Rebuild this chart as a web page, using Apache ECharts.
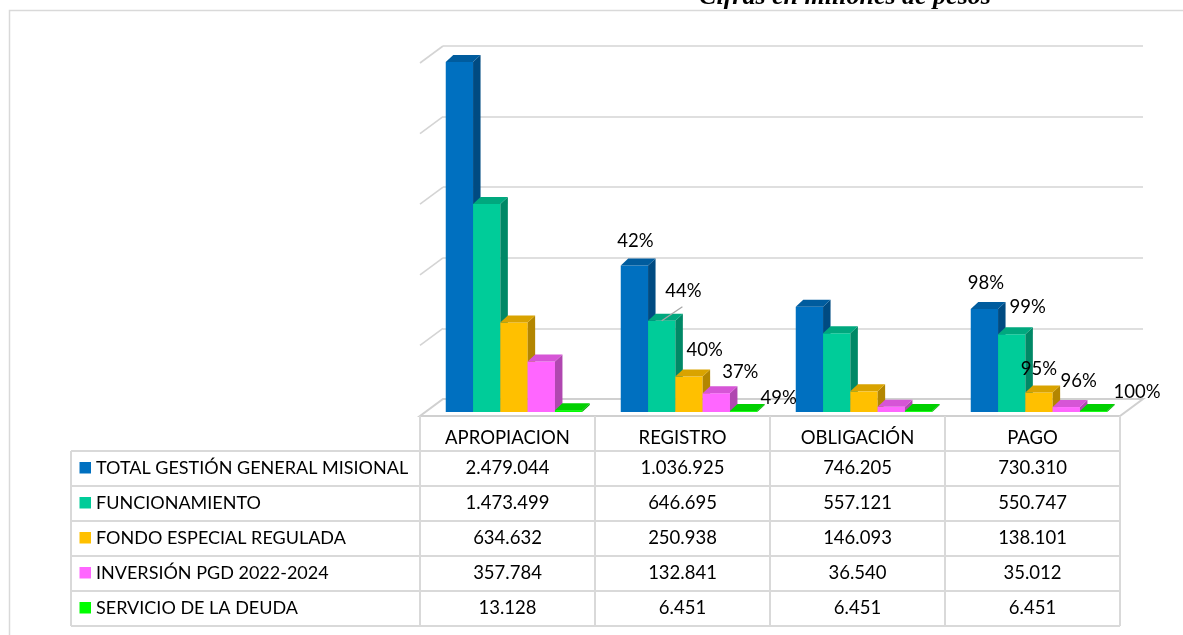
<!DOCTYPE html>
<html><head><meta charset="utf-8">
<script src="https://cdn.jsdelivr.net/npm/echarts@6/dist/echarts.min.js"></script>
<style>html,body{margin:0;padding:0;background:#fff}#c{width:1183px;height:635px}</style>
</head><body><div id="c"></div>
<script>
// ---------- data ----------
const categories = ['APROPIACION', 'REGISTRO', 'OBLIGACIÓN', 'PAGO'];
const seriesNames = ['TOTAL GESTIÓN GENERAL MISIONAL', 'FUNCIONAMIENTO', 'FONDO ESPECIAL REGULADA', 'INVERSIÓN PGD 2022-2024', 'SERVICIO DE LA DEUDA'];
const totalGestion   = [2479044, 1036925, 746205, 730310];
const funcionamiento = [1473499, 646695, 557121, 550747];
const fondoEspecial  = [634632, 250938, 146093, 138101];
const inversionPGD   = [357784, 132841, 36540, 35012];
const servicioDeuda  = [13128, 6451, 6451, 6451];
const pctTotal  = [null, '42%', null, '98%'];
const pctFunc   = [null, '44%', null, '99%'];
const pctFondo  = [null, '40%', null, '95%'];
const pctInv    = [null, '37%', null, '96%'];
const pctDeuda  = [null, '49%', null, '100%'];
const yMin = 0, yMax = 2500000, yInterval = 500000;
const titleText = 'Cifras en millones de pesos';

const seriesValues = [totalGestion, funcionamiento, fondoEspecial, inversionPGD, servicioDeuda];
const seriesPct = [pctTotal, pctFunc, pctFondo, pctInv, pctDeuda];

// ---------- styles / layout ----------
const colors = [
  {front:'#0070C0', top:'#005C9E', side:'#004B82'},
  {front:'#00CC99', top:'#00A87E', side:'#008866'},
  {front:'#FFC000', top:'#D9A300', side:'#B38600'},
  {front:'#FF66FF', top:'#D655D6', side:'#B047B0'},
  {front:'#00FF00', top:'#00D000', side:'#00AA00'}
];
// label offsets relative to the bar's front-top centre [dx, dy, leader]
const labelOffsets = [
  [null, [1, -25], null, [1.5, -26]],
  [null, [21.7, -29.5, true], null, [16, -27]],
  [null, [15.7, -26.7], null, [0, -23]],
  [null, [24, -21.7], null, [12.4, -25.7]],
  [null, [35, -13], null, [43.5, -19.5]]
];
const GRID = {left:443, top:46, right:40, bottom:236};
const FLOOR_DX = -23, FLOOR_DY = 17;      // back wall -> front of floor
const BAR_SX = -16.5, BAR_SY = 13;        // back wall -> front face of bars
const BAR_DX = 7.5, BAR_DY = -7;          // bar depth
const BAR_FRAC = 0.78;
const FONT = '18.5px Lato';
const LEGEND_FONT = '18px Lato';
const LINE = '#d9d9d9';

function fmt(v){ return String(v).replace(/\B(?=(\d{3})+(?!\d))/g, '.'); }

function barGeom(api, i, v, j){
  const base = api.coord([i, 0]);
  const top = api.coord([i, v]);
  const band = api.size([1, 0])[0];
  const bw = band * BAR_FRAC / seriesValues.length;
  const x0 = base[0] + BAR_SX - bw * seriesValues.length / 2 + j * bw;
  return {x0, bw, y0: base[1] + BAR_SY, yt: top[1] + BAR_SY};
}

const barSeries = seriesValues.map((vals, j) => ({
  type: 'custom',
  name: seriesNames[j],
  z: 5,
  data: vals.map((v, i) => [i, v]),
  encode: {x: 0, y: 1},
  renderItem: function(params, api){
    const i = api.value(0), v = api.value(1);
    const g = barGeom(api, i, v, j);
    const c = colors[j];
    const x1 = g.x0 + g.bw;
    return {type:'group', children:[
      {type:'rect', shape:{x:g.x0, y:g.yt, width:g.bw, height:g.y0 - g.yt}, style:{fill:c.front}},
      {type:'polygon', shape:{points:[[x1, g.yt],[x1 + BAR_DX, g.yt + BAR_DY],[x1 + BAR_DX, g.y0 + BAR_DY],[x1, g.y0]]}, style:{fill:c.side}},
      {type:'polygon', shape:{points:[[g.x0, g.yt],[g.x0 + BAR_DX, g.yt + BAR_DY],[x1 + BAR_DX, g.yt + BAR_DY],[x1, g.yt]]}, style:{fill:c.top}}
    ]};
  }
}));

const labelData = [];
seriesPct.forEach((arr, j) => arr.forEach((t, i) => { if (t) labelData.push([i, seriesValues[j][i], j]); }));

const labelSeries = {
  type: 'custom', z: 8, silent: true,
  data: labelData,
  encode: {x: 0, y: 1},
  renderItem: function(params, api){
    const i = api.value(0), v = api.value(1), j = api.value(2);
    const g = barGeom(api, i, v, j);
    const off = labelOffsets[j][i];
    const cx = g.x0 + g.bw / 2, lx = cx + off[0], ly = g.yt + off[1];
    const children = [{type:'text', style:{text: seriesPct[j][i], x: lx, y: ly, align:'center', verticalAlign:'middle', font: FONT, fill:'#000'}}];
    if (off[2]) children.push({type:'line', shape:{x1: lx - 1, y1: ly + 15.5, x2: cx, y2: g.yt}, style:{stroke:'#a6a6a6', lineWidth:1.3}});
    return {type:'group', children};
  }
};

const chart = echarts.init(document.getElementById('c'));
chart.setOption({
  animation: false,
  backgroundColor: '#fff',
  grid: GRID,
  xAxis: {type:'category', data: categories, show: false},
  yAxis: {type:'value', min: yMin, max: yMax, interval: yInterval,
    axisLabel:{show:false}, axisLine:{show:false}, axisTick:{show:false},
    splitLine:{lineStyle:{color:'#d4d4d4', width:1.6}}},
  series: barSeries.concat([labelSeries])
});

// ---------- decorations & data table ----------
const gx0 = GRID.left, gx1 = 1183 - GRID.right, gy0 = 635 - GRID.bottom;
const fy = gy0 + FLOOR_DY, fx0 = gx0 + FLOOR_DX, fx1 = gx1 + FLOOR_DX;
const band = (gx1 - gx0) / categories.length;
const colX = categories.map((c, i) => fx0 + i * band).concat([fx1]);
const TABLE_LEFT = 71;
const ROW_H = 35;
const rowY = [fy + ROW_H].concat(seriesNames.map((s, k) => fy + ROW_H * (k + 2)));
const gfx = [];
gfx.push({type:'rect', shape:{x:9.5, y:10.5, width:1400, height:800}, style:{fill:'none', stroke:LINE, lineWidth:1.5}, z:0});
gfx.push({type:'text', style:{text:titleText, x:845, y:-2.5, align:'center', verticalAlign:'middle', font:'bold italic 26px "Liberation Serif"', fill:'#000'}, z:10});
// floor
gfx.push({type:'polygon', shape:{points:[[fx0, fy],[fx1, fy],[gx1, gy0],[gx0, gy0]]}, style:{fill:'#fff', stroke:'#d0d0d0', lineWidth:2}, z:1});
// left wall stubs
for (let v = yMin + yInterval; v <= yMax; v += yInterval){
  const y = chart.convertToPixel({yAxisIndex:0}, v);
  gfx.push({type:'line', shape:{x1:fx0, y1:y + FLOOR_DY, x2:gx0, y2:y}, style:{stroke:'#d4d4d4', lineWidth:1.6}, z:1});
}
// table lines
colX.forEach(x => gfx.push({type:'line', shape:{x1:x, y1:fy, x2:x, y2:rowY[rowY.length-1]}, style:{stroke:LINE, lineWidth:2}, z:2}));
rowY.forEach(y => gfx.push({type:'line', shape:{x1:TABLE_LEFT, y1:y, x2:fx1, y2:y}, style:{stroke:LINE, lineWidth:2}, z:2}));
gfx.push({type:'line', shape:{x1:TABLE_LEFT, y1:rowY[0], x2:TABLE_LEFT, y2:rowY[rowY.length-1]}, style:{stroke:LINE, lineWidth:2}, z:2});
// header
categories.forEach((c, i) => gfx.push({type:'text', style:{text:c, x:colX[i] + band/2, y:fy + 22, align:'center', verticalAlign:'middle', font:FONT, fill:'#000'}, z:10}));
// rows
seriesNames.forEach((name, k) => {
  const cy = rowY[k] + ROW_H / 2;
  gfx.push({type:'rect', shape:{x:79.5, y:cy - 6.5, width:11.5, height:11.5}, style:{fill:colors[k].front}, z:10});
  gfx.push({type:'text', style:{text:name, x:96, y:cy, align:'left', verticalAlign:'middle', font:LEGEND_FONT, fill:'#000'}, z:10});
  seriesValues[k].forEach((v, i) => gfx.push({type:'text', style:{text:fmt(v), x:colX[i] + band/2, y:cy, align:'center', verticalAlign:'middle', font:FONT, fill:'#000'}, z:10}));
});
chart.setOption({graphic: gfx});
</script>
</body></html>
